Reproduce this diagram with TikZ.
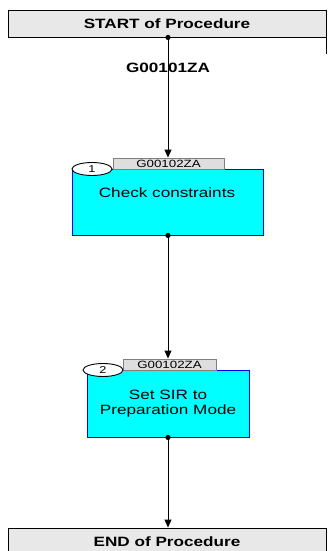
\documentclass[tikz,border=0pt]{standalone}
\usepackage{fontspec}
\setmainfont{Liberation Sans}
\newfontfamily\widesans{Liberation Sans}[FakeStretch=1.27]
\usetikzlibrary{arrows.meta,shapes.geometric}
\definecolor{boxgray}{RGB}{232,232,232}
\definecolor{tabgray}{RGB}{222,222,222}
\definecolor{stepcyan}{RGB}{0,255,255}

\begin{document}
\begin{tikzpicture}[x=1pt,y=-1pt,line width=0.9pt,
  termbox/.style={draw=black,fill=boxgray,minimum width=318pt,minimum height=27pt,inner sep=0pt,font=\widesans\bfseries\fontsize{13.5}{15}\selectfont},
  stepbox/.style={draw=blue,fill=stepcyan,inner sep=0pt},
  steptext/.style={inner sep=0pt,align=center,font=\widesans\fontsize{13.5}{15}\selectfont},
  tabbox/.style={draw=gray,fill=tabgray,inner sep=0pt,minimum height=11pt,font=\widesans\fontsize{10.5}{11}\selectfont},
  numoval/.style={draw=black,fill=white,ellipse,inner sep=0pt,minimum width=40pt,minimum height=13pt,font=\widesans\fontsize{10}{11}\selectfont},
  flow/.style={-{Triangle[length=8pt,width=7pt]}}]
  \useasboundingbox (0,0) rectangle (330,551);
  % start and end of procedure
  \node[termbox] (start) at (167,23.5) {START of Procedure};
  \node[termbox] (end) at (167,541.5) {END of Procedure};
  \draw (start.north east) -- ++(0,44);
  \node[font=\widesans\bfseries\fontsize{13.5}{15}\selectfont] (gid) at (168,68) {G00101ZA};
  % step 1
  \node[stepbox,minimum width=191pt,minimum height=66pt] (step1) at (167.5,202) {};
  \node[steptext] (text1) at (167,193) {Check constraints};
  \node[tabbox,minimum width=111pt] (tab1) at (168.5,163.5) {G00102ZA};
  \node[numoval] (num1) at (92,169) {1};
  % step 2
  \node[stepbox,minimum width=162pt,minimum height=67pt] (step2) at (168,403.5) {};
  \node[steptext] (text2) at (168,404) {Set SIR to\\Preparation Mode};
  \node[tabbox,minimum width=93pt] (tab2) at (169.5,364.5) {G00102ZA};
  \node[numoval] (num2) at (103,370) {2};
  % connectors
  \draw[flow] (start.south -| 168,0) -- (tab1.north -| 168,0);
  \draw[flow] (step1.south -| 168,0) -- (tab2.north -| 168,0);
  \draw[flow] (step2.south -| 168,0) -- (end.north -| 168,0);
  \foreach \n in {start,step1,step2} \fill (\n.south -| 168,0) circle (2.6pt);
\end{tikzpicture}
\end{document}
